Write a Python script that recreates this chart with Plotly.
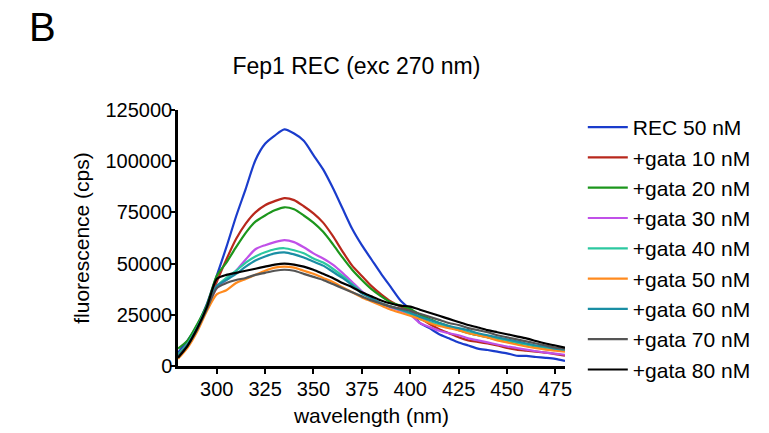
import plotly.graph_objects as go

wavelength = [280, 285, 290, 295, 300, 305, 310, 315, 320, 325, 330, 335, 340, 345, 350,
              355, 360, 365, 370, 375, 380, 385, 390, 395, 400, 405, 410, 415, 420, 425,
              430, 435, 440, 445, 450, 455, 460, 465, 470, 475, 480]

rec_50 = [6500, 12500, 20000, 30500, 44000, 58000, 73000, 86500, 100500, 108500, 112500, 115500,
          113500, 110000, 103000, 96000, 87000, 77000, 67000, 59000, 52000, 45000, 38500, 32000,
          27500, 21000, 18500, 15500, 13500, 11500, 10000, 8500, 7800, 7000, 6200, 5000, 4900,
          4400, 4000, 3500, 2500]
gata_10 = [5500, 11000, 19500, 28000, 41000, 52000, 62000, 69500, 75000, 78500, 80500, 82000,
           81000, 78000, 74500, 70000, 63500, 56000, 49000, 44000, 39000, 35000, 31500, 29000,
           27000, 23500, 20500, 18000, 16000, 14000, 12500, 11800, 11000, 10000, 8800, 8000,
           7500, 7000, 6500, 5800, 5000]
gata_20 = [8500, 12500, 20500, 30000, 44000, 50500, 58000, 65000, 70500, 73500, 76000, 77500,
           76500, 73500, 70000, 65500, 59500, 53000, 47000, 42000, 37500, 34000, 31000, 29500,
           28000, 25000, 23000, 21000, 19500, 17500, 16200, 15000, 14000, 13000, 12000, 11000,
           10500, 9500, 8700, 8000, 7500]
gata_30 = [5000, 10000, 18000, 28000, 38000, 42000, 46500, 52000, 57000, 59000, 60500, 61500,
           60500, 58000, 55000, 52500, 49500, 45500, 41000, 36500, 33000, 30500, 28500, 27000,
           25000, 21000, 19000, 17200, 16000, 15000, 13500, 12500, 11500, 10500, 9500, 8800,
           8000, 7200, 6500, 6000, 5500]
gata_40 = [5500, 11000, 19000, 29000, 39000, 43000, 46500, 50500, 53500, 55500, 57000, 57500,
           56500, 55000, 52500, 50500, 47500, 44000, 40000, 36000, 33000, 30500, 29000, 27500,
           25500, 23000, 21500, 20000, 19000, 18000, 16500, 15500, 14500, 13500, 12500, 11500,
           10500, 9700, 9000, 8200, 7500]
gata_50 = [3500, 9000, 17000, 27000, 35000, 37000, 40500, 42500, 44500, 46500, 48000, 48500,
           48000, 46500, 45000, 43000, 41000, 38500, 36000, 33500, 31500, 29500, 27500, 26000,
           24500, 23000, 21000, 19500, 18500, 17500, 16000, 15000, 14000, 12500, 11500, 10500,
           9500, 8700, 8000, 7500, 7000]
gata_60 = [5000, 10500, 18500, 28500, 39000, 42000, 45000, 48500, 51500, 53500, 55000, 55500,
           54500, 53000, 51000, 49000, 46000, 43000, 39500, 35500, 33000, 30500, 29000, 27500,
           26000, 24000, 22500, 21000, 19500, 18500, 17500, 16000, 15000, 14000, 13000, 12000,
           11000, 10000, 9500, 8500, 8000]
gata_70 = [4500, 10000, 18000, 28000, 38000, 40500, 42000, 43000, 44500, 45500, 46500, 47000,
           46500, 45000, 43500, 42000, 40000, 38000, 36000, 34000, 32000, 30500, 29000, 28000,
           27000, 25500, 24000, 22500, 21000, 20000, 18500, 17500, 16500, 15000, 14000, 13000,
           12000, 11000, 10000, 9000, 8500]
gata_80 = [4000, 10000, 18500, 29000, 42500, 44500, 45500, 46500, 47500, 48500, 49500, 50000,
           49500, 48500, 47000, 45000, 43000, 40500, 38500, 36000, 34000, 32000, 30500, 29500,
           29000, 27500, 26000, 24500, 23000, 21500, 20000, 18800, 17500, 16500, 15500, 14500,
           13500, 12200, 11000, 10000, 9000]

series_names = ["REC 50 nM", "+gata 10 nM", "+gata 20 nM", "+gata 30 nM", "+gata 40 nM",
                "+gata 50 nM", "+gata 60 nM", "+gata 70 nM", "+gata 80 nM"]
series_values = [rec_50, gata_10, gata_20, gata_30, gata_40, gata_50, gata_60, gata_70, gata_80]
series_colors = ["#1a3ccc", "#b8281c", "#1c961c", "#c050e8", "#2cc8a0", "#ff8a1e",
                 "#1a8ea4", "#555555", "#000000"]

x_ticks = [300, 325, 350, 375, 400, 425, 450, 475]
y_ticks = [0, 25000, 50000, 75000, 100000, 125000]

FONT = "Liberation Sans, Arial, sans-serif"

fig = go.Figure()
for name, vals, col in zip(series_names, series_values, series_colors):
    fig.add_trace(go.Scatter(x=wavelength, y=vals, mode="lines", name=name,
                             line=dict(color=col, width=2.2, shape="spline", smoothing=0.7)))

fig.update_layout(
    width=769, height=433,
    margin=dict(l=178, r=204, t=110, b=67, autoexpand=False),
    paper_bgcolor="white", plot_bgcolor="white",
    font=dict(family=FONT, color="black"),
    title=dict(text="Fep1 REC (exc 270 nm)", font=dict(size=23, family=FONT, color="black"),
               x=0.461, xref="paper", xanchor="center", y=1 - 66 / 433, yref="container",
               yanchor="middle"),
    showlegend=True,
    legend=dict(x=1.046, xanchor="left", y=1.012, yanchor="top",
                font=dict(size=21, family=FONT, color="black"),
                bgcolor="rgba(0,0,0,0)", itemwidth=40, tracegroupgap=0, maxheight=400),
    annotations=[dict(text="B", x=-0.39, xref="paper", xanchor="left", y=1.324, yref="paper",
                      yanchor="middle", showarrow=False, font=dict(size=40, family=FONT, color="black"))],
)

fig.update_xaxes(range=[280, 480], tickvals=x_ticks, ticktext=[str(t) for t in x_ticks],
                 showgrid=False, zeroline=False, showline=True, linecolor="black", linewidth=2.5,
                 ticks="outside", ticklen=5, tickwidth=2, tickcolor="black", automargin=False,
                 ticklabelstandoff=-2,
                 tickfont=dict(size=20, family=FONT, color="black"),
                 title=dict(text="wavelength (nm)", font=dict(size=21, family=FONT, color="black"),
                            standoff=10))
fig.update_yaxes(range=[0, 125000], tickvals=y_ticks, ticktext=[str(t) for t in y_ticks],
                 showgrid=False, zeroline=False, showline=True, linecolor="black", linewidth=2.5,
                 ticks="outside", ticklen=5, tickwidth=2, tickcolor="black", automargin=False,
                 ticklabelstandoff=-6,
                 tickfont=dict(size=20, family=FONT, color="black"),
                 title=dict(text="fluorescence (cps)", font=dict(size=21, family=FONT, color="black"),
                            standoff=11))

fig.write_html("out.html")
